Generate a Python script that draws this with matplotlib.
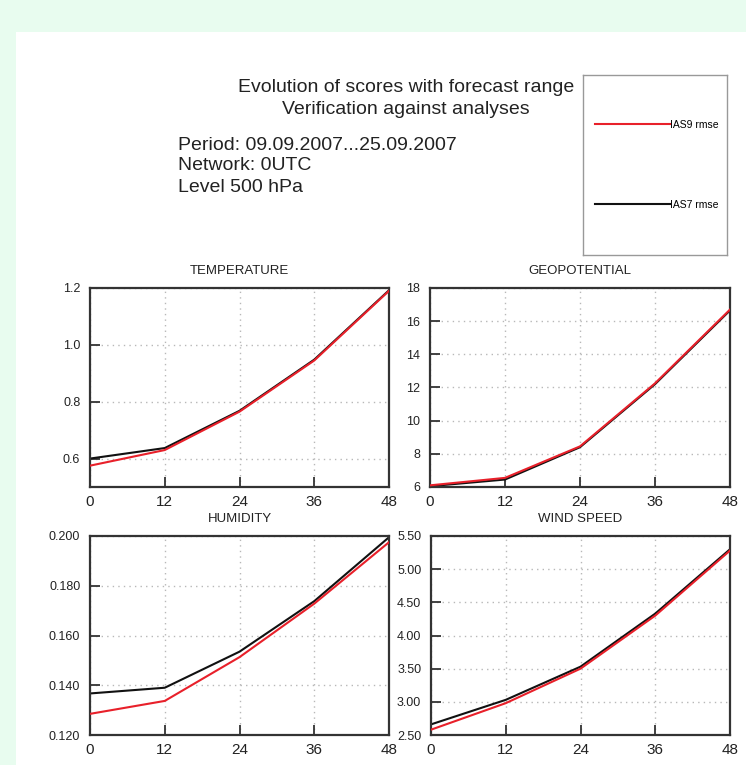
import matplotlib.pyplot as plt
from matplotlib.patches import Rectangle
from matplotlib.ticker import FormatStrFormatter

plt.rcParams['font.family'] = ['Liberation Sans', 'DejaVu Sans']

steps = [0, 12, 24, 36, 48]

temp_ias9 = [0.575, 0.630, 0.765, 0.945, 1.190]
temp_ias7 = [0.600, 0.637, 0.768, 0.948, 1.192]

geo_ias9 = [6.10, 6.55, 8.45, 12.25, 16.70]
geo_ias7 = [6.05, 6.45, 8.40, 12.20, 16.65]

hum_ias9 = [0.1285, 0.1337, 0.1513, 0.1728, 0.1975]
hum_ias7 = [0.1367, 0.1390, 0.1535, 0.1738, 0.1995]

wind_ias9 = [2.58, 2.98, 3.50, 4.30, 5.28]
wind_ias7 = [2.66, 3.03, 3.53, 4.33, 5.30]

panels = [
    ("TEMPERATURE", temp_ias9, temp_ias7, (0.5, 1.2), [0.6, 0.8, 1.0, 1.2], '%.1f'),
    ("GEOPOTENTIAL", geo_ias9, geo_ias7, (6, 18), [6, 8, 10, 12, 14, 16, 18], '%d'),
    ("HUMIDITY", hum_ias9, hum_ias7, (0.12, 0.20), [0.12, 0.14, 0.16, 0.18, 0.20], '%.3f'),
    ("WIND SPEED", wind_ias9, wind_ias7, (2.5, 5.5), [2.5, 3.0, 3.5, 4.0, 4.5, 5.0, 5.5], '%.2f'),
]

W, H = 746, 765
fig = plt.figure(figsize=(W / 100, H / 100), dpi=100, facecolor='#e8fcef')
fig.patches.append(Rectangle((16 / W, 0), 1 - 16 / W, 1 - 32 / H, transform=fig.transFigure,
                             facecolor='white', edgecolor='none', zorder=-10))


def box(x0, y0, x1, y1):
    return [x0 / W, 1 - y1 / H, (x1 - x0) / W, (y1 - y0) / H]


rects = [box(90, 288, 389, 487), box(430, 288, 730, 487),
         box(90, 536, 389, 735), box(431, 536, 730, 735)]

red_c, black_c = '#e8202a', '#111111'
txt_c = '#222222'
for (name, s9, s7, ylim, yt, fmt), r in zip(panels, rects):
    ax = fig.add_axes(r)
    l9, = ax.plot(steps, s9, color=red_c, lw=1.5, label='IAS9 rmse', zorder=3)
    l7, = ax.plot(steps, s7, color=black_c, lw=1.5, label='IAS7 rmse', zorder=2)
    ax.set_xlim(0, 48)
    ax.set_ylim(*ylim)
    ax.set_xticks(steps)
    ax.set_yticks(yt)
    ax.yaxis.set_major_formatter(FormatStrFormatter(fmt))
    ax.tick_params(direction='in', length=7, width=1.3, color='#333333', labelcolor=txt_c)
    ax.tick_params(axis='x', labelsize=11, pad=6)
    ax.tick_params(axis='y', labelsize=9, pad=7)
    ax.grid(True, linestyle=(0, (1, 3)), color='#b8b8b8', lw=1.0)
    for sp in ax.spines.values():
        sp.set_linewidth(1.6)
        sp.set_color('#333333')
    ax.set_title(name, fontsize=9.5, pad=10, color=txt_c)

# legend box
lax = fig.add_axes(box(583, 75, 727, 255))
lax.set_xticks([])
lax.set_yticks([])
for sp in lax.spines.values():
    sp.set_color('#999999')
    sp.set_linewidth(1.0)
lax.legend(handles=[l9, l7], loc='center left', bbox_to_anchor=(0.02, 0.5), frameon=False,
           fontsize=7.5, handlelength=7.2, handletextpad=0.0, labelspacing=6.7)

title_fs = 14
fig.text(406 / W, 1 - 88 / H, "Evolution of scores with forecast range", ha='center', va='center',
         fontsize=title_fs, color=txt_c)
fig.text(406 / W, 1 - 110 / H, "Verification against analyses", ha='center', va='center',
         fontsize=title_fs, color=txt_c)
fig.text(178 / W, 1 - 146 / H, "Period: 09.09.2007...25.09.2007", ha='left', va='center',
         fontsize=title_fs, color=txt_c)
fig.text(178 / W, 1 - 166 / H, "Network: 0UTC", ha='left', va='center', fontsize=title_fs, color=txt_c)
fig.text(178 / W, 1 - 188 / H, "Level 500 hPa", ha='left', va='center', fontsize=title_fs, color=txt_c)

fig.savefig('out.png', dpi=100, facecolor=fig.get_facecolor())
